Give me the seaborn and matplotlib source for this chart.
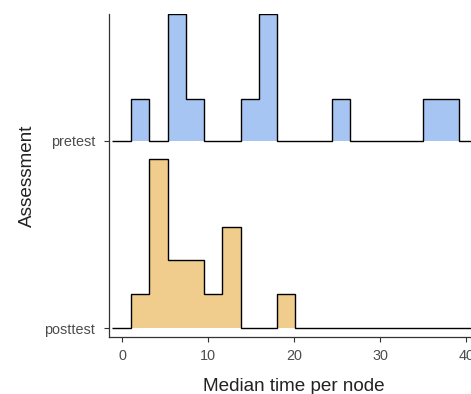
import numpy as np
import pandas as pd
import matplotlib
matplotlib.use("Agg")
import matplotlib.pyplot as plt
from matplotlib.transforms import Affine2D
import seaborn as sns

# ---- data ----
groups = ["posttest", "pretest"]          # bottom -> top
bin_edges = [1.05, 3.17, 5.29, 7.41, 9.53, 11.65, 13.77, 15.89, 18.01, 20.13,
             22.25, 24.37, 26.49, 28.61, 30.73, 32.85, 34.97, 37.09, 39.21]
pretest_counts = [1, 0, 3, 1, 0, 0, 1, 3, 0, 0, 0, 1, 0, 0, 0, 0, 1, 1]
posttest_counts = [1, 5, 2, 2, 1, 3, 0, 0, 1, 0, 0, 0, 0, 0, 0, 0, 0, 0]
x_ticks = [0, 10, 20, 30, 40]
x_label = "Median time per node"
y_label = "Assessment"

counts = {"pretest": pretest_counts, "posttest": posttest_counts}
colors = {"pretest": "#A6C5F2", "posttest": "#F0CD8C"}

sns.set_theme(style="ticks")
plt.rcParams["font.family"] = ["Liberation Sans", "DejaVu Sans"]

fig = plt.figure(figsize=(4.71, 3.94), dpi=100)
ax = fig.add_axes([0.2314, 0.1447, 0.786, 0.8198])
xlo, xhi = -1.51, 41.5
ylo, yhi = -0.048, 1.679

edges = np.array(bin_edges)
centers = (edges[:-1] + edges[1:]) / 2
widths = np.diff(edges)

dens = {g: np.array(counts[g]) / (np.sum(counts[g]) * widths) for g in groups}
max_d = max(d.max() for d in dens.values())
peak = 0.904                    # height of the tallest ridge in row units
k = peak / max_d

for i, g in enumerate(groups):
    before = list(ax.collections)
    df = pd.DataFrame({"x": centers, "w": np.array(counts[g], dtype=float)})
    sns.histplot(data=df, x="x", weights="w", bins=list(bin_edges),
                 stat="density", element="step", fill=True,
                 color=colors[g], alpha=1, linewidth=0, ax=ax)
    shift = Affine2D().scale(1, k).translate(0, i) + ax.transData
    for art in ax.collections:
        if art not in before:
            art.set_transform(shift)
    # outline including the baseline across the panel
    pad_edges = np.concatenate([[-1.16], edges, [xhi + 5]])
    pad_vals = np.concatenate([[0], dens[g] * k, [0]]) + i
    ax.stairs(pad_vals, pad_edges, baseline=None, color="black", lw=1.0,
              zorder=5)

ax.set_xlim(xlo, xhi)
ax.set_ylim(ylo, yhi)
ax.set_yticks(range(len(groups)))
ax.set_yticklabels(groups)
ax.set_xticks(x_ticks)
ax.set_xticklabels([str(t) for t in x_ticks])
ax.set_xlabel(x_label, fontsize=13.6, color="#222222", labelpad=11)
ax.set_ylabel(y_label, fontsize=13.6, color="#222222", labelpad=6)
ax.tick_params(axis="both", labelsize=10.4, labelcolor="#4D4D4D",
               color="#333333", length=3.5, width=0.8)
ax.tick_params(axis="y", pad=6.5)
ax.tick_params(axis="x", pad=5)
for s in ["top", "right"]:
    ax.spines[s].set_visible(False)
for s in ["left", "bottom"]:
    ax.spines[s].set_color("#333333")
    ax.spines[s].set_linewidth(0.9)

fig.savefig("out.png", dpi=100)
